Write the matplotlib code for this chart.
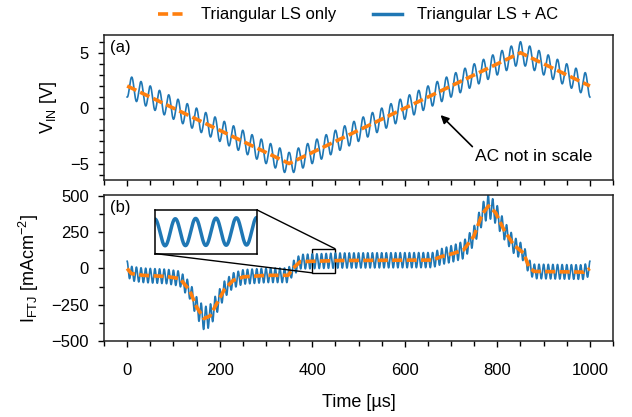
import matplotlib
matplotlib.use('Agg')
import matplotlib.pyplot as plt
import numpy as np
from matplotlib.ticker import MultipleLocator
from matplotlib.lines import Line2D
from mpl_toolkits.axes_grid1.inset_locator import mark_inset

plt.rcParams['font.family'] = ['Liberation Sans', 'DejaVu Sans']
plt.rcParams['mathtext.fontset'] = 'custom'
plt.rcParams['mathtext.rm'] = 'Liberation Sans'
plt.rcParams['mathtext.it'] = 'Liberation Sans:italic'
plt.rcParams['font.size'] = 12

BLUE = '#1f77b4'
ORANGE = '#ff7f0e'
DASH = (0, (2.8, 1.2))

# triangular large signal (vertices)
v_t = [0, 350, 850, 1000]
v_ls = [2.0, -5.0, 5.0, 2.0]
# AC drawn "not in scale" on panel a
v_ac_amp = 1.0
v_ac_period = 20.0

# FTJ current, LS only
i_t = [0, 9, 34, 85, 114, 135, 150, 166, 179, 193, 211, 229, 251, 301, 348,
       358, 374, 460, 660, 677, 706, 727, 749, 767, 781, 796, 814, 835, 857,
       868, 879, 987, 1000]
i_ls = [0, -35, -47, -55, -70, -150, -265, -345, -327, -245, -140, -82, -58,
        -47, -47, 0, 47, 55, 58, 80, 105, 128, 221, 373, 431, 385, 268, 163,
        105, 12, -20, -25, 0]
# AC current amplitude envelope at the same times
i_ac_amp = [50, 50, 50, 50, 52, 58, 70, 80, 78, 68, 58, 52, 50, 50, 50, 50,
            50, 52, 52, 55, 58, 60, 65, 75, 80, 75, 65, 58, 55, 50, 50, 50, 50]
i_ac_period = 10.0

t = np.linspace(0, 1000, 8001)
v_full = np.interp(t, v_t, v_ls) - v_ac_amp * np.cos(2 * np.pi * t / v_ac_period)
i_full = np.interp(t, i_t, i_ls) + np.interp(t, i_t, i_ac_amp) * np.cos(2 * np.pi * t / i_ac_period)

fig = plt.figure(figsize=(6.32, 4.17), dpi=100)
ax1 = fig.add_axes([0.1646, 0.568, 0.8054, 0.348])
ax2 = fig.add_axes([0.1646, 0.182, 0.8054, 0.350], sharex=ax1)

# panel a
ax1.plot(t, v_full, color=BLUE, lw=1.2)
ax1.plot(v_t, v_ls, color=ORANGE, lw=2.6, ls=DASH)
ax1.set_ylabel(r'V$_{\mathrm{IN}}$ [V]', fontsize=13, labelpad=8)
ax1.set_ylim(-6.5, 6.6)
ax1.yaxis.set_major_locator(MultipleLocator(5))
ax1.yaxis.set_minor_locator(MultipleLocator(1))
ax1.text(0.012, 0.965, '(a)', transform=ax1.transAxes, va='top', ha='left')
ax1.annotate('AC not in scale', xy=(673, -0.45), xytext=(752, -4.4),
             ha='left', va='center', fontsize=12.5,
             arrowprops=dict(arrowstyle='-|>', color='black', lw=1.2,
                             mutation_scale=12, relpos=(0, 1), shrinkA=0, shrinkB=2))

# panel b
ax2.plot(t, i_full, color=BLUE, lw=1.2)
ax2.plot(i_t, i_ls, color=ORANGE, lw=2.6, ls=DASH)
ax2.set_ylabel(r'I$_{\mathrm{FTJ}}$ [mAcm$^{-2}$]', fontsize=13, labelpad=7)
ax2.set_ylim(-500, 505)
ax2.yaxis.set_major_locator(MultipleLocator(250))
ax2.yaxis.set_minor_locator(MultipleLocator(125))
ax2.set_xlim(-50, 1050)
ax2.xaxis.set_major_locator(MultipleLocator(200))
ax2.xaxis.set_minor_locator(MultipleLocator(50))
ax2.set_xlabel('Time [µs]', fontsize=13, labelpad=11)
ax2.text(0.012, 0.965, '(b)', transform=ax2.transAxes, va='top', ha='left')

for ax in (ax1, ax2):
    ax.tick_params(which='major', length=4, width=1, pad=7)
    ax.tick_params(which='minor', length=3.5, width=1)
    ax.tick_params(axis='x', which='major', pad=12)
    for s in ax.spines.values():
        s.set_linewidth(1.1)
        s.set_color('#222222')
ax1.tick_params(labelbottom=False)

# zoom inset
axins = ax2.inset_axes([0.1, 0.6, 0.2, 0.3])
axins.plot(t, i_full, color=BLUE, lw=2.5)
axins.set_xlim(400, 450)
axins.set_ylim(-30, 135)
axins.set_xticks([])
axins.set_yticks([])
for s in axins.spines.values():
    s.set_linewidth(1.1)
mark_inset(ax2, axins, loc1=1, loc2=3, fc='none', ec='black', lw=1.0)

handles = [Line2D([], [], color=ORANGE, lw=2.6, ls=DASH),
           Line2D([], [], color=BLUE, lw=2.5)]
fig.legend(handles, ['Triangular LS only', 'Triangular LS + AC'],
           loc='center', bbox_to_anchor=(358 / 632, 1 - 15 / 417), ncol=2,
           frameon=False, handlelength=1.7, columnspacing=2.2, handletextpad=0.9)

fig.savefig('out.png', dpi=100)
